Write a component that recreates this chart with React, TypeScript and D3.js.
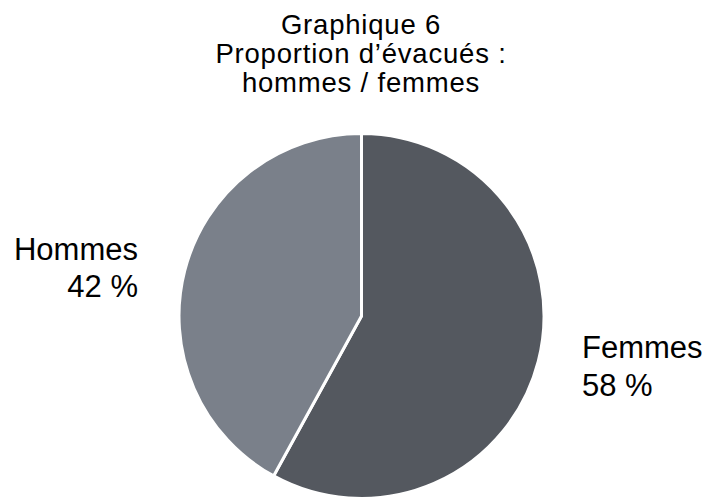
import React from "react";
import * as d3 from "d3";

const categories = ["Femmes", "Hommes"];
const values = [58, 42];
const colors = ["#54585f", "#7a808a"];
const titleLines = ["Graphique 6", "Proportion d\u2019évacués :", "hommes / femmes"];

export default function App() {
  const W = 709, H = 500;
  const cx = 361.5, cy = 316, r = 182.5;
  const pie = d3.pie<number>().sort(null).value((d) => d);
  const arcs = pie(values);
  const arc = d3.arc<d3.PieArcDatum<number>>().innerRadius(0).outerRadius(r);
  const font = "Helvetica, 'Liberation Sans', Arial, sans-serif";
  return (
    <svg width={W} height={H} style={{ position: "absolute", left: 0, top: 0 }}>
      <rect width={W} height={H} fill="#fff" />
      {titleLines.map((t, i) => (
        <text key={i} x={361} y={34 + i * 29} textAnchor="middle" fontFamily={font} fontSize={27.5} letterSpacing={0.8} fill="#000">
          {t}
        </text>
      ))}
      <g transform={`translate(${cx},${cy})`}>
        {arcs.map((a, i) => (
          <path key={categories[i]} d={arc(a) || ""} fill={colors[i]} stroke="#fff" strokeWidth={3} strokeLinejoin="round" />
        ))}
      </g>
      <text x={138} y={260} textAnchor="end" fontFamily={font} fontSize={31} fill="#000">
        <tspan x={138}>{categories[1]}</tspan>
        <tspan x={138} dy={37}>{values[1]} %</tspan>
      </text>
      <text x={582} y={358} textAnchor="start" fontFamily={font} fontSize={31} fill="#000">
        <tspan x={582}>{categories[0]}</tspan>
        <tspan x={582} dy={38}>{values[0]} %</tspan>
      </text>
    </svg>
  );
}
